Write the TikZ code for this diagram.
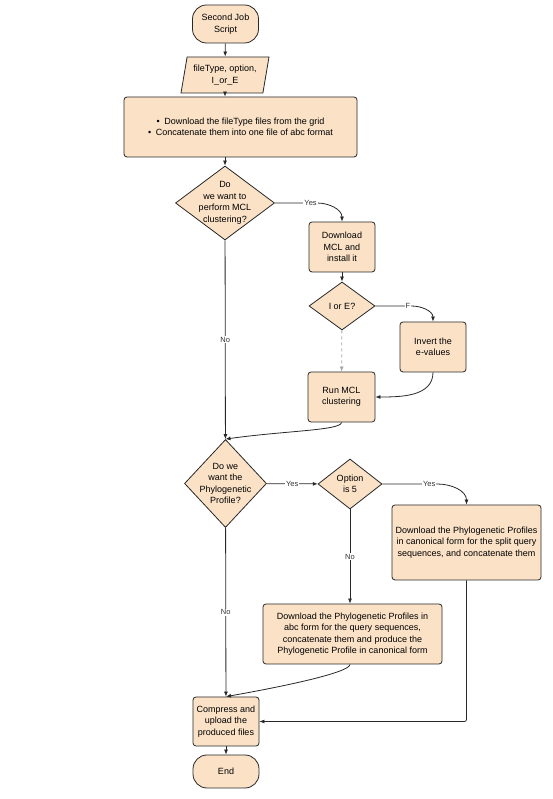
\documentclass[tikz,border=0pt]{standalone}
\usepackage{fontspec}
\setmainfont{Liberation Sans}
\usetikzlibrary{shapes.geometric,arrows.meta}
\definecolor{peach}{RGB}{251,226,199}
\definecolor{edgegray}{RGB}{40,40,40}
\begin{document}
\begin{tikzpicture}[x=1pt, y=1pt,
    every node/.style={font=\fontsize{9}{11.5}\selectfont, align=center},
    term/.style={draw=edgegray, fill=peach, rounded corners=14pt, minimum width=66pt, line width=0.8pt},
    proc/.style={draw=edgegray, fill=peach, rounded corners=3pt, line width=0.8pt},
    decide/.style={draw=edgegray, fill=peach, diamond, inner sep=-6pt, line width=0.8pt},
    inout/.style={draw=edgegray, fill=peach, trapezium, trapezium left angle=77, trapezium right angle=103,
      trapezium stretches body, inner xsep=0pt, line width=0.8pt},
    flow/.style={-{Latex[length=5pt,width=4pt]}, line width=0.8pt, draw=edgegray},
    lbl/.style={font=\fontsize{7.5}{9}\selectfont, text=black!80, fill=white, inner sep=1pt}]
    \fill[white] (0,0) rectangle (553,799);
    \useasboundingbox (0,0) rectangle (553,799);
    % Nodes
    \node[term, minimum height=38pt] (node1) at (225.5,775) {Second Job\\Script};
    \node[inout, minimum width=88pt, minimum height=36pt] (node2) at (225,724) {fileType, option,\\I\_or\_E};
    \node[proc, minimum width=233pt, minimum height=60pt] (node3) at (240.5,672)
      {\textbullet\enspace Download the fileType files from the grid\\
       \textbullet\enspace Concatenate them into one file of abc format};
    \node[decide, minimum width=99pt, minimum height=74pt] (node4) at (225,596) {Do\\we want to\\perform MCL\\clustering?};

    \node[proc, minimum width=66pt, minimum height=50pt] (node5) at (342,552) {Download\\MCL and\\install it};
    \node[decide, minimum width=66pt, minimum height=48pt] (node6) at (342,493) {I or E?};
    \node[proc, minimum width=66pt, minimum height=50pt] (node7) at (433,452) {Invert the\\e-values};
    \node[proc, minimum width=67pt, minimum height=50pt] (node8) at (341.5,402) {Run MCL\\clustering};

    \node[decide, minimum width=82pt, minimum height=88pt] (node9) at (225.5,315.5) {Do we\\want the\\Phylogenetic\\Profile?};
    \node[decide, minimum width=64pt, minimum height=50pt] (node10) at (350,315) {Option\\is 5};
    \node[proc, minimum width=149pt, minimum height=75pt] (node11) at (466.5,256.5)
      {Download the Phylogenetic Profiles\\in canonical form for the split query\\sequences, and concatenate them};
    \node[proc, minimum width=179pt, minimum height=60pt] (node12) at (352.5,165)
      {Download the Phylogenetic Profiles in\\abc form for the query sequences,\\concatenate them and produce the\\Phylogenetic Profile in canonical form};

    \node[proc, minimum width=66pt, minimum height=49pt] (node13) at (226,77.5) {Compress and\\upload the\\produced files};
    \node[term, minimum height=33pt] (node14) at (226,27.5) {End};
    % Connection
    \draw[flow] (node1) -- (node2);
    \draw[flow] (node2) -- (node3.north -| node2);
    \draw[flow] (node3.south -| node4) -- (node4);
    \draw[flow] (node4.east) -- node[lbl, pos=0.85] {Yes} ++(42,0) to[out=0, in=90] (node5.north);
    \draw[flow] (node5) -- (node6);
    \draw[flow] (node6.east) -- node[lbl, pos=0.9] {F} ++(36,0) to[out=0, in=90] (node7.north);
    \draw[flow, draw=gray!70, dashed] (node6) -- (node8);
    \draw[flow] (node7.south) to[out=-90, in=0] (node8.east);
    \draw[flow] (node4) -- node[lbl] {No} (node9);
    \draw[flow] (node8.south) to[out=-90, in=8, out distance=8pt, in distance=60pt] (node9.north);
    \draw[flow] (node9) -- node[lbl] {Yes} (node10);
    \draw[flow] (node10.east) -- node[lbl, pos=0.85] {Yes} ++(55,0) to[out=0, in=90] (node11.north);
    \draw[flow] (node10.south) -- node[lbl] {No} (node10.south |- node12.north);
    \draw[flow] (node9) -- node[lbl] {No} (node13);
    \draw[flow] (node12.south -| node10) to[out=-90, in=10, out distance=8pt, in distance=60pt] (node13.north);
    \draw[flow, rounded corners=2pt] (node11.south) |- (node13.east);
    \draw[flow] (node13) -- (node14);
\end{tikzpicture}
\end{document}
